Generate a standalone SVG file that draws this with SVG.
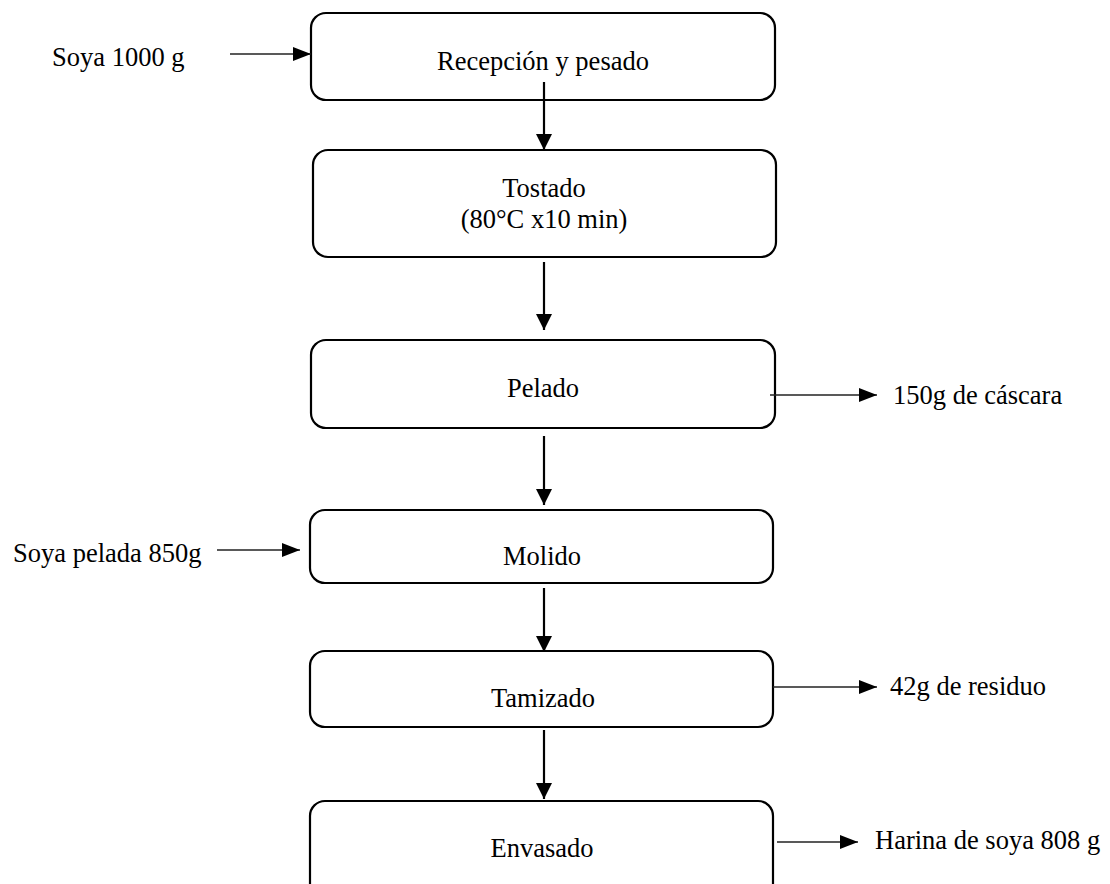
<svg xmlns="http://www.w3.org/2000/svg" width="1110" height="884" viewBox="0 0 1110 884">
<style>
.box{fill:#fff;stroke:#000;stroke-width:2.2}
.t{font-family:"Liberation Serif","Times New Roman",serif;font-size:26.5px;fill:#000}
.c{text-anchor:middle}
.v{stroke:#000;stroke-width:2.2;fill:none}
.h{stroke:#222;stroke-width:1.4;fill:none}
</style>
<defs>
<marker id="av" viewBox="0 0 16 16" refX="16" refY="8" markerWidth="16" markerHeight="16" markerUnits="userSpaceOnUse" orient="auto"><path d="M0,0 L16,8 L0,16 z" fill="#000"/></marker>
<marker id="ah" viewBox="0 0 18 14" refX="18" refY="7" markerWidth="18" markerHeight="14" markerUnits="userSpaceOnUse" orient="auto"><path d="M0,0 L18,7 L0,14 z" fill="#000"/></marker>
</defs>
<rect width="1110" height="884" fill="#fff"/>
<g id="n1"><rect class="box" x="311" y="13" width="464" height="87" rx="15"/><text class="t c" x="543" y="70">Recepción y pesado</text></g>
<g id="n2"><rect class="box" x="313" y="150" width="463" height="107" rx="15"/><text class="t c" x="544" y="197">Tostado</text><text class="t c" x="544" y="228">(80°C x10 min)</text></g>
<g id="n3"><rect class="box" x="311" y="340" width="464" height="88" rx="15"/><text class="t c" x="543" y="397">Pelado</text></g>
<g id="n4"><rect class="box" x="310" y="510" width="463" height="73" rx="15"/><text class="t c" x="542" y="565">Molido</text></g>
<g id="n5"><rect class="box" x="310" y="651" width="463" height="76" rx="15"/><text class="t c" x="543" y="707">Tamizado</text></g>
<g id="n6"><rect class="box" x="310" y="801" width="463" height="100" rx="15"/><text class="t c" x="542" y="857">Envasado</text></g>
<g id="connectors">
<line class="v" x1="544" y1="82" x2="544" y2="150" marker-end="url(#av)"/>
<line class="v" x1="544" y1="262" x2="544" y2="330" marker-end="url(#av)"/>
<line class="v" x1="544" y1="436" x2="544" y2="505" marker-end="url(#av)"/>
<line class="v" x1="544" y1="588" x2="544" y2="652" marker-end="url(#av)"/>
<line class="v" x1="544" y1="730" x2="544" y2="799" marker-end="url(#av)"/>
<line class="h" x1="230" y1="54" x2="311" y2="54" marker-end="url(#ah)"/>
<line class="h" x1="217" y1="550" x2="300" y2="550" marker-end="url(#ah)"/>
<line class="h" x1="770" y1="395" x2="877" y2="395" marker-end="url(#ah)"/>
<line class="h" x1="773" y1="687" x2="877" y2="687" marker-end="url(#ah)"/>
<line class="h" x1="777" y1="842" x2="858" y2="842" marker-end="url(#ah)"/>
</g>
<g id="labels">
<text class="t" x="52" y="66">Soya 1000 g</text>
<text class="t" x="13" y="562">Soya pelada 850g</text>
<text class="t" x="893" y="404">150g de cáscara</text>
<text class="t" x="890" y="695">42g de residuo</text>
<text class="t" x="875" y="849">Harina de soya 808 g</text>
</g>
</svg>
